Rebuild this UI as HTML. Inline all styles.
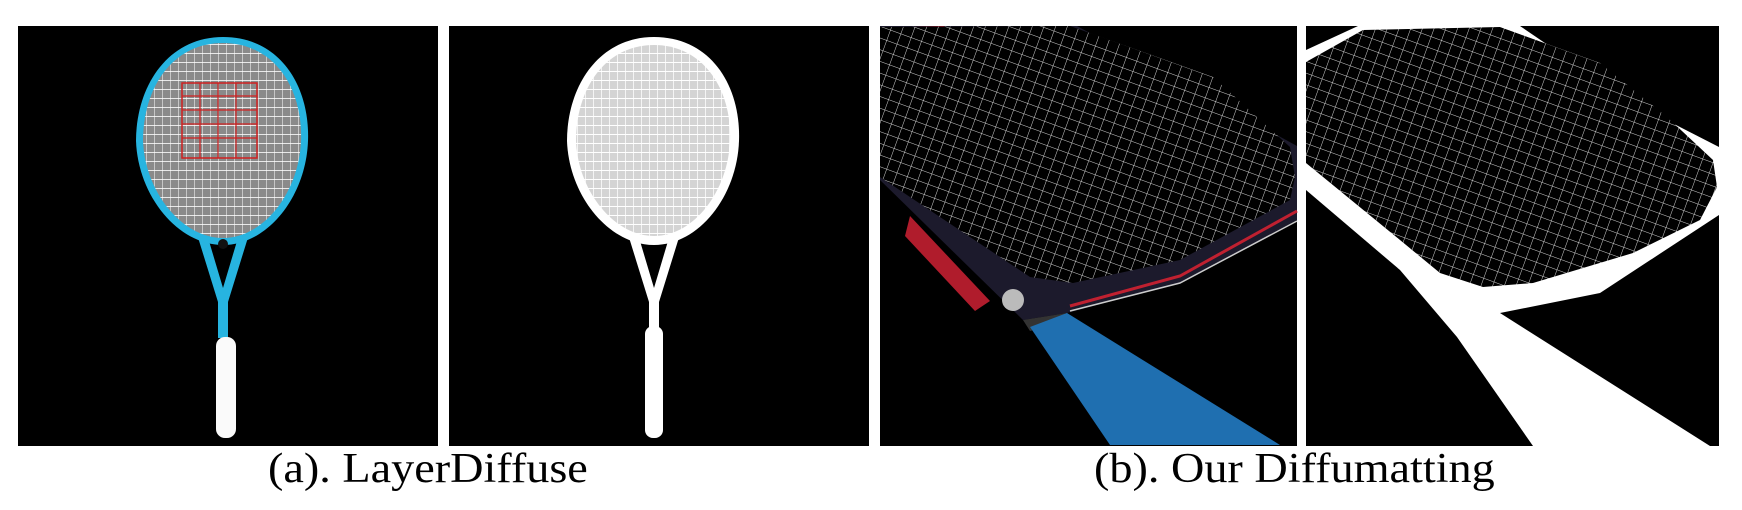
<!DOCTYPE html>
<html><head><meta charset="utf-8"><style>
html,body{margin:0;padding:0;background:#fff;width:1742px;height:510px;overflow:hidden}
svg{position:absolute;left:0;top:0}
.cap{position:absolute;font-family:"Liberation Serif",serif;font-size:42px;color:#000;white-space:nowrap;top:446px;line-height:46px;transform-origin:0 0;transform:scaleX(1.1)}
</style></head><body>
<svg width="1742" height="510" viewBox="0 0 1742 510">
<defs>
<pattern id="grid1" width="8" height="9" patternUnits="userSpaceOnUse">
<rect width="8" height="9" fill="#8a8a8a"/><line x1="0" y1="0" x2="0" y2="9" stroke="#eee" stroke-width="1.2"/><line x1="0" y1="0" x2="8" y2="0" stroke="#fff" stroke-width="1.6"/></pattern>
<pattern id="grid2" width="8" height="9" patternUnits="userSpaceOnUse">
<rect width="8" height="9" fill="#d4d4d4"/><line x1="0" y1="0" x2="0" y2="9" stroke="#fff" stroke-width="1.5"/><line x1="0" y1="0" x2="8" y2="0" stroke="#fff" stroke-width="2"/></pattern>
<pattern id="mesh" width="11" height="11" patternUnits="userSpaceOnUse" patternTransform="rotate(20)">
<rect width="11" height="11" fill="#000"/><line x1="0" y1="0" x2="0" y2="11" stroke="#e8e8e8" stroke-width="0.9"/><line x1="0" y1="0" x2="11" y2="0" stroke="#e8e8e8" stroke-width="0.9"/></pattern>
</defs>

<g transform="translate(18,26)">
<rect width="420" height="420" fill="#000"/>
<path d="M178,205 L200,276 L200,312 L210,312 L210,276 L232,205 L222,205 L205,262 L188,205Z" fill="#27b4e0"/>
<path d="M205,11 C262,11 292,60 290,115 C288,170 250,219 205,219 C160,219 120,170 118,115 C118,60 150,11 205,11Z" fill="#27b4e0"/>
<path d="M205,17 C256,17 285,62 283,115 C281,166 246,212 205,212 C164,212 127,166 125,115 C125,62 154,17 205,17Z" fill="url(#grid1)"/>
<rect x="164" y="57" width="75" height="75" fill="none" stroke="#d02020" stroke-width="1.5"/>
<path d="M164,70H239M164,84H239M164,98H239M164,112H239M182,57V132M200,57V132M218,57V132" stroke="#d02020" stroke-width="1.2"/>
<circle cx="205" cy="218" r="5" fill="#111"/>
<rect x="198" y="311" width="20" height="101" rx="9" fill="#fafafa"/>
</g>

<g transform="translate(449,26)">
<rect width="420" height="420" fill="#000"/>
<path d="M178,205 L200,276 L200,312 L210,312 L210,276 L232,205 L222,205 L205,262 L188,205Z" fill="#fff"/>
<path d="M205,11 C262,11 292,60 290,115 C288,170 250,219 205,219 C160,219 120,170 118,115 C118,60 150,11 205,11Z" fill="#fff"/>
<path d="M205,19 C254,19 283,63 281,115 C279,165 245,210 205,210 C165,210 129,165 127,115 C127,63 156,19 205,19Z" fill="url(#grid2)"/>
<rect x="196" y="300" width="18" height="112" rx="8" fill="#fff"/>
</g>

<g transform="translate(880,26)">
<rect width="417" height="420" fill="#000"/>
<path d="M0,0 L197,0 L417,120 L417,194 L300,257 L187,287 L143,294 L0,154Z" fill="#1c1a2c"/>
<path d="M0,2 L65,0 L0,30Z" fill="#a01828"/>
<path d="M30,190 L110,275 L95,285 L25,210Z" fill="#b01c2c"/>
<path d="M417,185 L300,250 L190,280" fill="none" stroke="#c02030" stroke-width="3"/>
<path d="M417,195 L300,257 L190,285" fill="none" stroke="#ccc" stroke-width="1.5"/>
<path d="M0,1 L190,0 L333,51 L410,121 L415,151 L410,174 L300,234 L193,257 L150,251 L0,151Z" fill="url(#mesh)"/>
<circle cx="133" cy="274" r="11" fill="#bbb"/>
<path d="M143,294 L187,287 L192,295 L150,305Z" fill="#333"/>
<path d="M150,301 L187,287 L400,419 L230,419Z" fill="#1f6fb0"/>
</g>

<g transform="translate(1306,26)">
<rect width="413" height="420" fill="#fff"/>
<path d="M0,0 L52,0 L0,24Z" fill="#000"/>
<path d="M214,0 L413,0 L413,121 L327,77Z" fill="#000"/>
<path d="M0,36 L57,4 L194,1 L294,37 L361,91 L407,134 L411,161 L394,194 L327,227 L227,257 L177,261 L134,247 L94,214 L0,137Z" fill="url(#mesh)"/>
<path d="M0,164 L94,244 L151,311 L227,420 L0,420Z" fill="#000"/>
<path d="M194,287 L294,267 L413,189 L413,420 L404,420Z" fill="#000"/>
</g>
</svg>
<div class="cap" style="left:268px">(a). LayerDiffuse</div>
<div class="cap" style="left:1094px">(b). Our Diffumatting</div>
</body></html>
